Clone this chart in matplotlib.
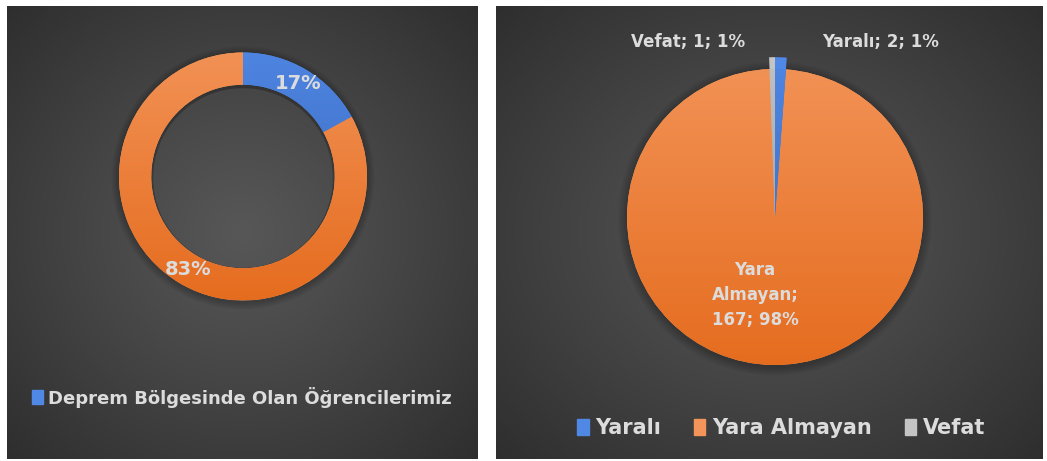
import matplotlib.pyplot as plt
import numpy as np
from matplotlib.colors import LinearSegmentedColormap, to_rgb
from matplotlib.patches import Patch, Wedge

# left chart: donut
donut_labels = ["Deprem Bölgesinde Olan Öğrencilerimiz", ""]
donut_values = [170, 830]

# right chart: pie
pie_labels = ["Yaralı", "Yara Almayan", "Vefat"]
pie_values = [2, 167, 1]

BLUE = ("#5088e6", "#3560b0")
ORANGE = ("#f3955a", "#e4691a")
GRAY = ("#c4c4c4", "#8c8c8c")
TXT = "#dcdcdc"
FONT = "DejaVu Sans"

W, H = 1047, 461
fig = plt.figure(figsize=(W / 100, H / 100), dpi=100, facecolor="white")


def px_axes(x0, y0, x1, y1):
    return fig.add_axes([x0 / W, 1 - y1 / H, (x1 - x0) / W, (y1 - y0) / H])


def panel(x0, y0, x1, y1):
    ax = px_axes(x0, y0, x1, y1)
    w, h = x1 - x0, y1 - y0
    yy, xx = np.mgrid[0:h, 0:w]
    r = np.hypot((xx - w / 2) / (w / 2), (yy - h / 2) / (h / 2)) / np.sqrt(2)
    c0 = np.array(to_rgb("#575757"))
    c1 = np.array(to_rgb("#2e2e2e"))
    img = c0 + (c1 - c0) * np.clip(r, 0, 1)[..., None] ** 1.1
    ax.imshow(img, aspect="auto", extent=(0, 1, 0, 1), interpolation="bilinear")
    ax.set_axis_off()
    return ax


def pie_axes(cx, cy, r):
    return px_axes(cx - r, cy - r, cx + r, cy + r)


def shadow(ax, r_in, steps=6, grow=0.01):
    # soft drop shadow made of a few translucent rings
    for k in range(steps):
        w = Wedge((0, -0.012), 1 + grow * (k + 1), 0, 360,
                  width=(1 + grow * (k + 1) - r_in) if r_in else None,
                  color="black", alpha=0.04, lw=0, zorder=0)
        w.set_clip_on(False)
        ax.add_patch(w)


def shade(ax, wedges, colors):
    # vertical gradient inside every wedge, lighter at the top
    grad = np.linspace(0, 1, 256)[:, None]
    for w, (c_top, c_bot) in zip(wedges, colors):
        cmap = LinearSegmentedColormap.from_list("g", [c_bot, c_top])
        im = ax.imshow(grad, cmap=cmap, origin="lower", extent=(-1.2, 1.2, -1.2, 1.2),
                       aspect="auto", zorder=w.get_zorder() + 0.1)
        im.set_clip_path(w)


# ---- panels
panel(7, 6, 478, 459)
panel(496, 6, 1043, 459)

# ---- donut
ax1 = pie_axes(243, 176.5, 124)
shadow(ax1, 0.725)
wedges1, _, auto1 = ax1.pie(donut_values, startangle=90, counterclock=False,
                            colors=[BLUE[0], ORANGE[0]], autopct="%.0f%%", pctdistance=0.875,
                            wedgeprops=dict(width=0.26, edgecolor="none"),
                            textprops=dict(color=TXT, fontsize=14, fontweight="bold", family=FONT))
for t in auto1:
    t.set_zorder(5)
shade(ax1, wedges1, [BLUE, ORANGE])
ax1.set_xlim(-1, 1)
ax1.set_ylim(-1, 1)
ax1.set_axis_off()

fig.legend(handles=[Patch(color=BLUE[0], label=donut_labels[0])], loc="center",
           bbox_to_anchor=(242 / W, 1 - 397 / H), frameon=False,
           handlelength=0.6, handleheight=0.8, handletextpad=0.3, labelcolor=TXT,
           prop=dict(family=FONT, weight="bold", size=13))

# ---- pie
ax2 = pie_axes(775, 217, 148)
shadow(ax2, None)
wedges2, _ = ax2.pie(pie_values, startangle=90, counterclock=False,
                     colors=[BLUE[0], ORANGE[0], GRAY[0]],
                     wedgeprops=dict(edgecolor="none"))
for i in (0, 2):
    wedges2[i].set_radius(1.08)
    wedges2[i].set_zorder(2)
shade(ax2, wedges2, [BLUE, ORANGE, GRAY])

total = sum(pie_values)
label_pos = [(0.71, 1.18), (-0.135, -0.53), (-0.59, 1.18)]
for lab, v, (x, y) in zip(pie_labels, pie_values, label_pos):
    pct = round(100 * v / total)
    if v == max(pie_values):
        s = f"{lab.replace(' ', chr(10))};\n{v}; {pct}%"
    else:
        s = f"{lab}; {v}; {pct}%"
    ax2.text(x, y, s, ha="center", va="center", color=TXT, fontsize=12,
             fontweight="bold", family=FONT, linespacing=1.5, zorder=6)
ax2.set_xlim(-1, 1)
ax2.set_ylim(-1, 1)
ax2.set_axis_off()

fig.legend(handles=[Patch(color=c[0], label=l) for c, l in zip([BLUE, ORANGE, GRAY], pie_labels)],
           loc="center", ncol=3, bbox_to_anchor=(781 / W, 1 - 428 / H), frameon=False,
           handlelength=0.55, handleheight=0.8, handletextpad=0.3, columnspacing=1.6,
           labelcolor=TXT, prop=dict(family=FONT, weight="bold", size=15))

fig.savefig("out.png", dpi=100, facecolor="white")
